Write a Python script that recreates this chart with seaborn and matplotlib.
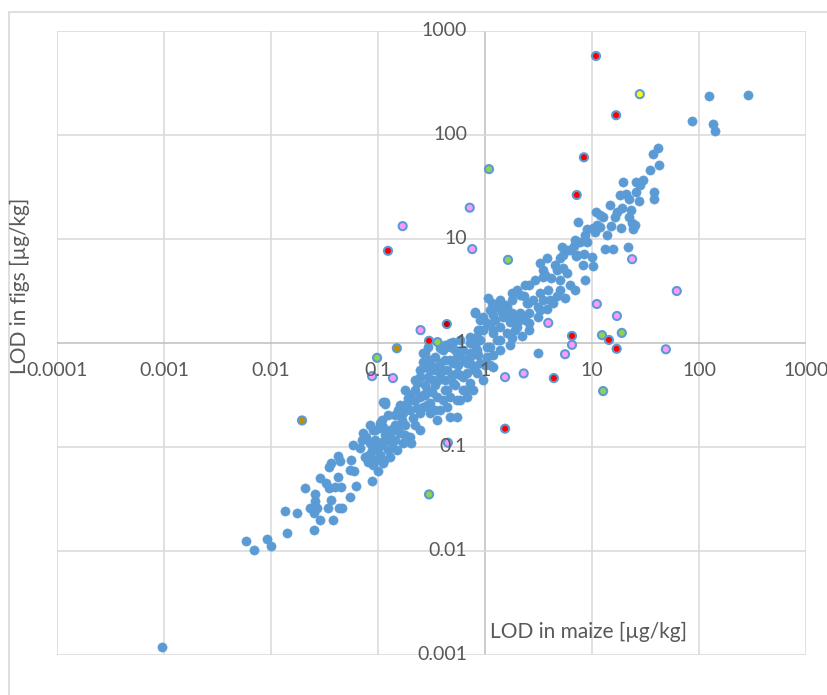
import matplotlib
matplotlib.use("Agg")
import matplotlib.pyplot as plt
import matplotlib.transforms as mtransforms
from matplotlib.lines import Line2D
import pandas as pd
import seaborn as sns

# ---------------- data (µg/kg) ----------------
# low tail of the blue cloud
maize_tail = [0.00095, 0.0059, 0.0069, 0.0092, 0.010, 0.014, 0.0135, 0.0175, 0.021, 0.025,
              0.023, 0.026, 0.026, 0.027, 0.025, 0.029, 0.038, 0.029, 0.033, 0.035,
              0.040, 0.045, 0.036, 0.034, 0.043, 0.046, 0.042, 0.035, 0.036, 0.042,
              0.044, 0.056, 0.055, 0.060, 0.055, 0.062, 0.088, 0.10, 0.090, 0.059,
              0.068, 0.072, 0.085, 0.117, 0.076,
              0.078, 0.084, 0.088, 0.094, 0.10, 0.105, 0.11, 0.12, 0.124, 0.114,
              0.096, 0.082, 0.094, 0.105, 0.13, 0.124, 0.080, 0.071, 0.11]
figs_tail = [0.0012, 0.0125, 0.0102, 0.0131, 0.0112, 0.0149, 0.024, 0.023, 0.040, 0.016,
             0.026, 0.035, 0.030, 0.026, 0.023, 0.020, 0.020, 0.050, 0.045, 0.040,
             0.041, 0.041, 0.031, 0.026, 0.026, 0.026, 0.051, 0.064, 0.070, 0.082,
             0.074, 0.075, 0.060, 0.059, 0.033, 0.042, 0.047, 0.059, 0.067, 0.105,
             0.098, 0.136, 0.163, 0.26, 0.080,
             0.125, 0.11, 0.094, 0.116, 0.10, 0.084, 0.112, 0.128, 0.094, 0.075,
             0.075, 0.084, 0.146, 0.152, 0.146, 0.12, 0.072, 0.116, 0.18]

# dense core of the blue cloud
maize_core = [0.179, 0.199, 0.231, 0.247, 0.275, 0.306, 0.341, 0.380, 0.441, 0.502,
              0.547, 0.623, 0.724, 0.842, 0.958, 0.264, 0.293, 0.471, 0.502, 0.584,
              0.724, 0.679, 0.623, 0.724, 0.502, 0.441, 0.356, 0.306, 0.264, 0.247,
              0.212, 0.199, 0.171, 0.168, 0.151, 0.138, 0.129, 0.121, 0.109, 0.098,
              0.111, 0.104, 0.090, 0.380, 0.441, 0.547, 0.471, 0.356, 0.306, 0.247,
              0.199, 0.171, 0.151, 0.129, 0.111, 0.203, 0.547, 0.116, 0.898, 0.842,
              1.04, 1.11, 1.19, 0.679, 0.772, 0.958, 0.679, 0.405, 0.547, 0.471,
              0.623, 0.247, 0.212, 0.187, 0.287, 0.327, 0.380, 0.341, 0.293, 0.807,
              2.12, 2.47, 1.99, 1.19, 0.724, 0.471, 0.42, 0.380, 0.275, 0.264,
              0.327, 0.396, 0.111, 0.222, 0.275, 0.42, 0.525, 0.584, 0.471, 0.584,
              0.756, 0.86, 0.222, 0.179, 0.161, 0.144, 0.135, 0.287, 0.231, 0.341,
              0.405, 0.32, 0.264, 0.154, 0.179, 0.124, 1.38, 1.71, 1.19, 1.11]
figs_core = [0.353, 0.316, 0.412, 0.471, 0.588, 0.687, 0.733, 0.642, 0.550, 0.642,
             0.733, 0.856, 1.0, 1.14, 1.33, 0.801, 0.915, 1.0, 1.02, 1.07,
             0.801, 0.642, 0.471, 0.412, 0.412, 0.353, 0.303, 0.265, 0.243, 0.212,
             0.190, 0.227, 0.212, 0.182, 0.156, 0.146, 0.125, 0.117, 0.105, 0.094,
             0.156, 0.170, 0.146, 0.227, 0.243, 0.283, 0.194, 0.182, 0.212, 0.146,
             0.125, 0.109, 0.094, 0.080, 0.070, 0.109, 0.194, 0.271, 0.642, 0.515,
             0.733, 0.915, 0.588, 0.303, 0.353, 0.441, 0.515, 0.856, 0.515, 0.303,
             0.353, 0.303, 0.283, 0.265, 0.353, 0.441, 0.515, 0.550, 0.471, 1.94,
             1.94, 2.42, 1.56, 1.33, 1.14, 0.915, 0.96, 0.895, 0.801, 0.656,
             0.588, 0.550, 0.271, 0.353, 0.394, 0.441, 0.394, 0.492, 0.687, 0.767,
             0.614, 0.767, 0.163, 0.163, 0.136, 0.117, 0.10, 0.253, 0.237, 0.227,
             0.283, 0.338, 0.316, 0.227, 0.13, 0.203, 0.856, 0.957, 0.767, 0.614]

# extra points along the diagonal band
maize_band = [0.144, 0.161, 0.19, 0.222, 0.247, 0.306, 0.364, 0.42, 0.492, 0.56,
              0.65, 0.807, 0.898, 0.86, 1.11, 1.24, 1.54, 1.79, 2.12, 2.37,
              2.93, 3.63, 4.5, 5.0, 6.2, 6.9, 8.6, 10.7, 11.9, 14.7,
              18.3, 28, 35, 0.525, 0.42, 0.341, 0.275, 0.222, 0.179, 0.144,
              0.116, 0.094, 0.084, 0.65, 0.584, 0.807, 1.0, 1.38, 1.9, 2.37,
              3.27, 4.05, 5.0, 1.71, 1.38, 1.11, 0.898]
figs_band = [0.203, 0.253, 0.296, 0.441, 0.550, 0.550, 0.441, 0.353, 0.492, 0.614,
             0.687, 0.957, 1.07, 1.33, 1.49, 1.66, 2.32, 2.59, 2.89, 3.61,
             4.0, 4.5, 5.6, 6.6, 7.8, 9.8, 10.9, 11.7, 17, 21.2,
             26.5, 33, 46, 0.856, 0.687, 0.394, 0.316, 0.283, 0.227, 0.163,
             0.13, 0.105, 0.084, 0.353, 0.283, 0.55, 0.614, 1.07, 1.33, 1.66,
             2.08, 2.59, 3.23, 1.86, 2.59, 2.08, 1.66]

# middle part (1 - 10)
maize_mid = [0.81, 1.07, 1.16, 1.29, 1.44, 1.6, 1.8, 2.0, 2.3, 2.6,
             2.5, 2.8, 3.1, 3.5, 3.3, 3.9, 3.3, 3.5, 3.8, 3.5,
             4.1, 4.7, 5.4, 5.8, 5.0, 7.2, 5.8, 4.3, 5.6, 4.7,
             2.2, 2.6, 3.1, 1.47, 1.7, 2.0, 1.38, 1.19, 1.04, 0.90,
             1.6, 1.8, 1.29, 1.04, 0.84, 0.72, 2.3, 2.6, 2.0, 3.1,
             3.8, 2.6, 1.8, 1.19, 0.96, 6.9, 8.6, 6.2]
figs_mid = [2.0, 2.7, 2.4, 2.2, 2.0, 2.2, 3.0, 3.2, 2.8, 3.6,
            2.4, 2.6, 2.2, 2.6, 3.0, 3.2, 5.9, 5.0, 6.6, 4.3,
            4.2, 5.0, 5.3, 4.7, 4.0, 7.0, 7.8, 2.4, 2.7, 2.8,
            1.17, 1.33, 0.80, 1.78, 1.6, 1.43, 1.43, 1.25, 1.56, 1.33,
            1.25, 1.12, 1.07, 0.91, 0.86, 0.73, 1.78, 1.94, 1.66, 1.78,
            2.1, 1.56, 1.94, 1.86, 1.78, 3.2, 4.0, 3.6]

# upper part (> 5)
maize_high = [41, 37, 42, 19.5, 26, 30, 38, 38, 26, 21,
              22, 27.5, 23, 19, 17, 16.4, 11, 12.6, 7.4, 9.0,
              10.2, 11.1, 11.9, 15, 18.7, 22, 23.6, 25, 24, 13.8,
              21.7, 13.2, 15.7, 6.8, 7.7, 9.0, 7.1, 8.4, 10, 8.2,
              10.2, 5.2, 5.4, 124, 288, 135, 141, 86]
figs_high = [75, 66, 51, 35, 35, 37, 28, 24, 28, 27,
             24, 23, 19, 20, 18, 16.3, 18, 16.3, 14.5, 12.5,
             12.8, 13.6, 13.0, 13.3, 12.7, 16.3, 14.3, 13.6, 12.5, 10.9,
             8.4, 8.0, 8.0, 8.6, 9.4, 9.4, 6.9, 7.2, 6.7, 5.6,
             5.5, 8.4, 7.0, 237, 243, 128, 109, 135]

# highlighted analytes
maize_red = [10.9, 16.8, 8.4, 7.2, 0.124, 0.30, 6.5, 14.4, 17, 4.4, 1.54]
figs_red = [575, 155, 61, 26.5, 7.7, 1.05, 1.17, 1.07, 0.88, 0.46, 0.15]
maize_darkred = [0.44]
figs_darkred = [1.52]
maize_pink = [0.72, 0.17, 0.76, 0.25, 0.088, 0.138, 0.45, 23.7, 3.9, 11.1,
              17.1, 6.5, 5.6, 49, 62, 1.54, 2.3]
figs_pink = [20, 13.3, 8.0, 1.33, 0.48, 0.46, 0.11, 6.4, 1.56, 2.37,
             1.82, 0.96, 0.78, 0.87, 3.16, 0.47, 0.51]
maize_green = [1.09, 1.64, 0.098, 0.36, 12.4, 19, 12.7, 0.30]
figs_green = [47, 6.3, 0.72, 1.02, 1.19, 1.25, 0.345, 0.035]
maize_yellow = [28]
figs_yellow = [247]
maize_olive = [0.15, 0.0195]
figs_olive = [0.89, 0.18]

x_ticks = [0.0001, 0.001, 0.01, 0.1, 1, 10, 100, 1000]
x_tick_labels = ["0.0001", "0.001", "0.01", "0.1", "1", "10", "100", "1000"]
y_ticks = [0.001, 0.01, 0.1, 1, 10, 100, 1000]
y_tick_labels = ["0.001", "0.01", "0.1", "1", "10", "100", "1000"]
x_title = "LOD in maize [µg/kg]"
y_title = "LOD in figs [µg/kg]"

# ---------------- style ----------------
sns.set_theme(style="white")
plt.rcParams['font.family'] = ['Lato', 'DejaVu Sans']
BLUE = "#5B9BD5"
TXT = "#595959"
GRID = "#D9D9D9"
AXIS = "#BFBFBF"
FS = 14
FS_TITLE = 15

W, H = 828, 695
fig = plt.figure(figsize=(W / 100, H / 100), dpi=100)
fig.patch.set_facecolor("white")
ax = fig.add_axes([57 / W, 1 - 655 / H, (806 - 57) / W, (655 - 31) / H])
ax.set_xscale("log")
ax.set_yscale("log")
ax.set_xlim(x_ticks[0], x_ticks[-1])
ax.set_ylim(y_ticks[0], y_ticks[-1])
for sp in ax.spines.values():
    sp.set_visible(False)
for axis in (ax.xaxis, ax.yaxis):
    axis.set_major_locator(matplotlib.ticker.NullLocator())
    axis.set_minor_locator(matplotlib.ticker.NullLocator())

for v in x_ticks:
    ax.axvline(v, color=AXIS if v == 1 else GRID, lw=1.1, zorder=0)
for v in y_ticks:
    ax.axhline(v, color=AXIS if v == 1 else GRID, lw=1.1, zorder=0)

blue_df = pd.DataFrame({
    "maize": maize_tail + maize_core + maize_band + maize_mid + maize_high,
    "figs": figs_tail + figs_core + figs_band + figs_mid + figs_high,
})
sns.scatterplot(data=blue_df, x="maize", y="figs", color=BLUE, edgecolor=BLUE,
                s=44, linewidth=0.4, alpha=1, ax=ax, zorder=3, legend=False)

groups = [("red", maize_red, figs_red), ("darkred", maize_darkred, figs_darkred),
          ("pink", maize_pink, figs_pink), ("green", maize_green, figs_green),
          ("yellow", maize_yellow, figs_yellow), ("olive", maize_olive, figs_olive)]
rows = []
for g, mx, fy in groups:
    for a, b in zip(mx, fy):
        rows.append({"maize": a, "figs": b, "group": g})
spec_df = pd.DataFrame(rows)
palette = {"red": "#FF0000", "darkred": "#C00000", "pink": "#FF99FF",
           "green": "#92D050", "yellow": "#FFFF00", "olive": "#BF9000"}
sns.scatterplot(data=spec_df, x="maize", y="figs", hue="group", palette=palette,
                edgecolor=BLUE, s=34, linewidth=1.5, ax=ax, zorder=4, legend=False)
ax.set_xlabel("")
ax.set_ylabel("")

# tick labels at the crossing axes (Excel style)
tx = mtransforms.offset_copy(ax.transData, fig=fig, x=0, y=-27, units="dots")
for v, lab in zip(x_ticks, x_tick_labels):
    ax.text(v, 1, lab, transform=tx, ha="center", va="center", fontsize=FS,
            color=TXT, clip_on=False, zorder=6)
ty = mtransforms.offset_copy(ax.transData, fig=fig, x=-18, y=0, units="dots")
for v, lab in zip(y_ticks, y_tick_labels):
    ax.text(1, v, lab, transform=ty, ha="right", va="center", fontsize=FS,
            color=TXT, clip_on=False, zorder=6)

fig.text(20 / W, 1 - 286 / H, y_title, rotation=90, ha="center", va="center",
         fontsize=FS_TITLE, color=TXT)
fig.text(490 / W, 1 - 632 / H, x_title, ha="left", va="center",
         fontsize=FS_TITLE, color=TXT)

# outer chart frame (partially visible)
fig.add_artist(Line2D([8.5 / W, 8.5 / W], [0, 1 - 12 / H], transform=fig.transFigure,
                      color=GRID, lw=1.2))
fig.add_artist(Line2D([8.5 / W, 1], [1 - 12 / H, 1 - 12 / H], transform=fig.transFigure,
                      color=GRID, lw=1.2))

fig.savefig("out.png", dpi=100, facecolor="white")
